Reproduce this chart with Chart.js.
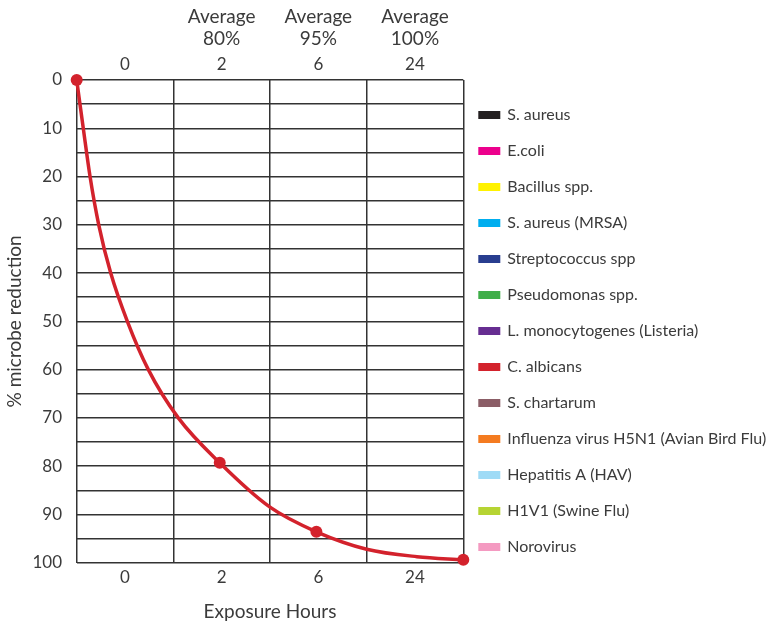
<!DOCTYPE html>
<html>
<head>
<meta charset="utf-8">
<title>Microbe reduction by exposure hours</title>
<script src="https://cdn.jsdelivr.net/npm/chart.js@4.4.1/dist/chart.umd.min.js"></script>
<style>
  html, body { margin: 0; padding: 0; background: #ffffff; }
  #chartCanvas { display: block; }
</style>
</head>
<body>
<canvas id="chartCanvas" width="766" height="626"></canvas>
<script>
// Data

// exposure hours (one column each)
var hours = ["0", "2", "6", "24"];
// average reduction written above each column (none for 0 h)
var averagePercent = [null, 80, 95, 100];

// the four marked readings (x in column units, -0.5 = left edge, 3.5 = right edge)
var markerX = [-0.5, 0.98, 1.98, 3.5];
var markerY = [0, 79.3, 93.6, 99.4];

var curveX = [-0.5, -0.432, -0.362, -0.272, -0.148, 0.024, 0.241, 0.551, 0.98, 1.5, 1.98, 2.5, 3.02, 3.5];
var curveY = [0, 10, 20, 30, 40, 50, 60, 70, 79.3, 88.5, 93.6, 97.2, 98.75, 99.4];

// legend
var microbes = [
  "S. aureus", "E.coli", "Bacillus spp.", "S. aureus (MRSA)", "Streptococcus spp",
  "Pseudomonas spp.", "L. monocytogenes (Listeria)", "C. albicans", "S. chartarum",
  "Influenza virus H5N1 (Avian Bird Flu)", "Hepatitis A (HAV)", "H1V1 (Swine Flu)", "Norovirus"
];
var microbeColors = [
  "#231f20", "#ec008c", "#fff200", "#00aeef", "#283d8f",
  "#3fae49", "#662d91", "#d3222c", "#8b5d66",
  "#f47b20", "#9fdbf6", "#b6d433", "#f49ac1"
];

var textColor = "#3b3b3b";
var gridColor = "#333333";
var lineRed = "#d3222c";
var fontFamily = "Lato, 'Open Sans', sans-serif";

// legend drawn to the right of the plot, one swatch per microbe
var microbeLegend = {
  id: "microbeLegend",
  afterDraw: function(chart) {
    var c = chart.ctx;
    var area = chart.chartArea;
    c.save();
    c.font = "16px " + fontFamily;
    c.textBaseline = "middle";
    c.textAlign = "left";
    for (var i = 0; i < microbes.length; i++) {
      var y = area.top + 35 + i * 36;
      c.fillStyle = microbeColors[i];
      c.fillRect(area.right + 15, y - 4, 22, 8);
      c.fillStyle = textColor;
      c.fillText(microbes[i], area.right + 44, y);
    }
    c.restore();
  }
};

document.addEventListener("DOMContentLoaded", function() {
  var averageLabels = averagePercent.map(function(p) {
    return p === null ? ["", ""] : ["Average", p + "%"];
  });

  var curvePoints = curveX.map(function(x, i) { return { x: x, y: curveY[i] }; });
  var markerPoints = markerX.map(function(x, i) { return { x: x, y: markerY[i] }; });

  var ctx = document.getElementById("chartCanvas").getContext("2d");
  new Chart(ctx, {
    type: "line",
    data: {
      datasets: [{
        label: "C. albicans",
        data: curvePoints,
        borderColor: lineRed,
        borderWidth: 3.5,
        pointRadius: 0,
        cubicInterpolationMode: "monotone",
        fill: false,
        clip: false
      }, {
        label: "readings",
        data: markerPoints,
        showLine: false,
        backgroundColor: lineRed,
        borderColor: lineRed,
        borderWidth: 0,
        pointRadius: 6,
        clip: false
      }]
    },
    plugins: [microbeLegend],
    options: {
      responsive: false,
      animation: false,
      layout: { padding: { top: 6, right: 302.7, left: 0, bottom: 0 } },
      scales: {
        x: {
          type: "linear",
          display: false,
          min: -0.5,
          max: 3.5
        },
        xBottom: {
          type: "category",
          position: "bottom",
          labels: hours,
          offset: true,
          grid: { offset: true, color: gridColor, lineWidth: 1.5, drawTicks: false },
          border: { display: false },
          ticks: { color: textColor, font: { family: fontFamily, size: 17 }, padding: 5.1, autoSkip: false, maxRotation: 0 },
          title: {
            display: true,
            text: "Exposure Hours",
            color: textColor,
            font: { family: fontFamily, size: 19 },
            padding: { top: 7.3, bottom: 2.6 }
          }
        },
        xTop: {
          type: "category",
          position: "top",
          labels: hours,
          offset: true,
          weight: 0,
          grid: { display: false, drawTicks: false },
          border: { display: false },
          ticks: { color: textColor, font: { family: fontFamily, size: 17 }, padding: 4.8, autoSkip: false, maxRotation: 0 }
        },
        xAverage: {
          type: "category",
          position: "top",
          labels: averageLabels,
          offset: true,
          weight: 10,
          grid: { display: false, drawTicks: false },
          border: { display: false },
          ticks: { color: textColor, font: { family: fontFamily, size: 19, lineHeight: 1.158 }, padding: 0, autoSkip: false, maxRotation: 0 }
        },
        y: {
          type: "linear",
          reverse: true,
          min: 0,
          max: 100,
          afterFit: function(scale) { scale.width = 76.7; },
          grid: { color: gridColor, lineWidth: 1.5, drawTicks: false },
          border: { display: false },
          ticks: {
            stepSize: 5,
            color: textColor,
            font: { family: fontFamily, size: 17 },
            padding: 14.7,
            callback: function(value) { return value % 10 === 0 ? value : ""; }
          },
          title: {
            display: true,
            text: "% microbe reduction",
            color: textColor,
            font: { family: fontFamily, size: 19 },
            padding: { top: 3.6, bottom: 0 }
          }
        }
      },
      plugins: {
        tooltip: { enabled: false },
        legend: { display: false }
      }
    }
  });
});
</script>
</body>
</html>
